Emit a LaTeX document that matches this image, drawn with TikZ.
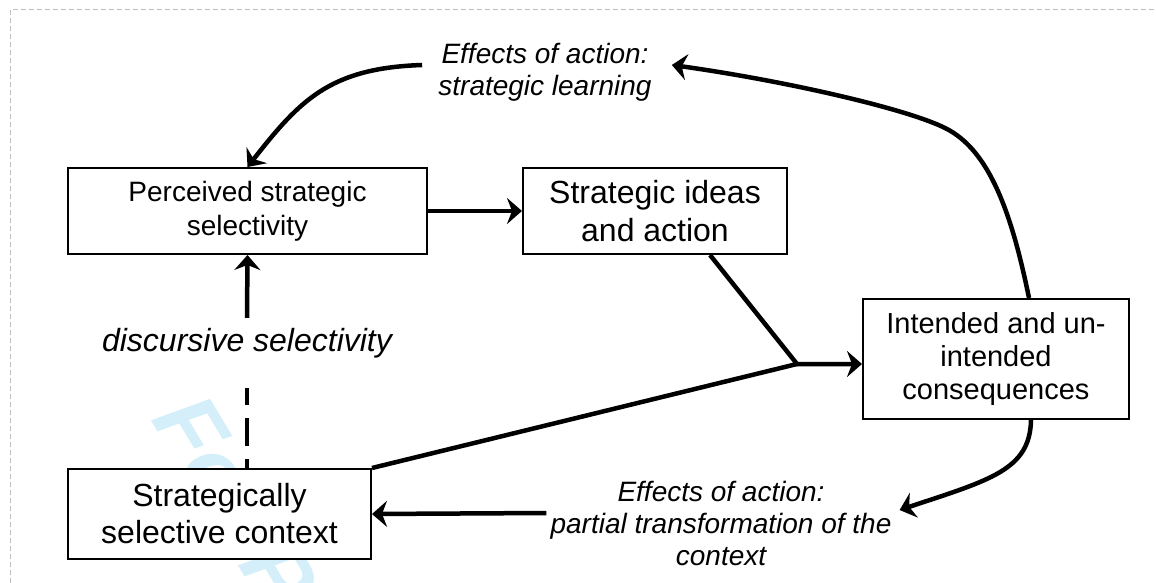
\documentclass[tikz,border=0pt]{standalone}
\usepackage{fontspec}
\setmainfont{Liberation Sans}
\usetikzlibrary{arrows.meta,calc}
\definecolor{wm}{RGB}{212,239,250}
\definecolor{framecol}{RGB}{190,190,190}
\begin{document}
\begin{tikzpicture}[x=1pt,y=-1pt,
  box/.style={draw, fill=white, line width=2pt, inner sep=0pt, align=center},
  lbl/.style={inner sep=0pt, align=center, font=\itshape\fontsize{28}{32}\selectfont},
  conn/.style={line width=4.5pt, line join=round},
  arr/.style={line width=4.5pt, line join=round, -{Stealth[length=15pt,width=26pt,inset=5pt]}},
]
\useasboundingbox (0,0) rectangle (1156,583);
% page frame
\draw[framecol, line width=1pt, dash pattern=on 5pt off 3pt] (10,583) -- (10,10) -- (1156,10);
% watermark
\node[rotate=-59, anchor=base west, text=wm, font=\bfseries\itshape\fontsize{90}{90}\selectfont, inner sep=0pt] (wmk) at (150,419) {For Peer Review};

% boxes
\node[box, minimum width=359pt, minimum height=86pt, font=\fontsize{28}{34}\selectfont] (perc) at (247.5,211) {Perceived strategic\\selectivity};
\node[box, minimum width=264pt, minimum height=86pt, font=\fontsize{32}{38}\selectfont] (ideas) at (655,211) {Strategic ideas\\and action};
\node[box, minimum width=266pt, minimum height=120pt, font=\fontsize{29}{33}\selectfont] (cons) at (996,359) {Intended and un-\\intended\\consequences};
\node[box, minimum width=303pt, minimum height=90pt, font=\fontsize{32}{37}\selectfont] (ctx) at (219.5,514) {Strategically\\selective context};

% labels
\node[lbl] (learn) at (545,72) {Effects of action:\\strategic learning};
\node[lbl] (transf) at (721,523) {Effects of action:\\partial transformation of the\\context};
\node[inner sep=0pt, minimum height=50pt, font=\itshape\fontsize{32}{38}\selectfont] (disc) at (247,343) {discursive selectivity};

% connectors
\draw[arr] (perc.east) -- (ideas.west);
\draw[arr] (disc.north) -- (perc.south);
\draw[line width=4pt, dash pattern=on 28pt off 13pt, dash phase=11pt] ([yshift=-20pt]disc.south) -- (disc.south |- ctx.north);

\coordinate (j) at (797,364);
\draw[conn] (ctx.north east) -- (j);
\draw[arr] ([xshift=55pt]ideas.south) -- (j) -- (j -| cons.west);

\draw[arr] ([xshift=33pt]cons.north) .. controls (1012,215) and (990,150) .. (945,128)
  .. controls (905,108) and (780,80) .. ([xshift=20pt,yshift=7pt]learn.east);
\draw[arr] ([xshift=-16pt,yshift=7pt]learn.west) .. controls (330,68) and (300,100) .. (perc.north);
\draw[arr] ([xshift=35pt]cons.south) .. controls (1030,470) and (990,480) .. ([xshift=8pt,yshift=13pt]transf.east);
\draw[arr] ([xshift=-4pt,yshift=10pt]transf.west) -- (ctx.east);
\end{tikzpicture}
\end{document}
